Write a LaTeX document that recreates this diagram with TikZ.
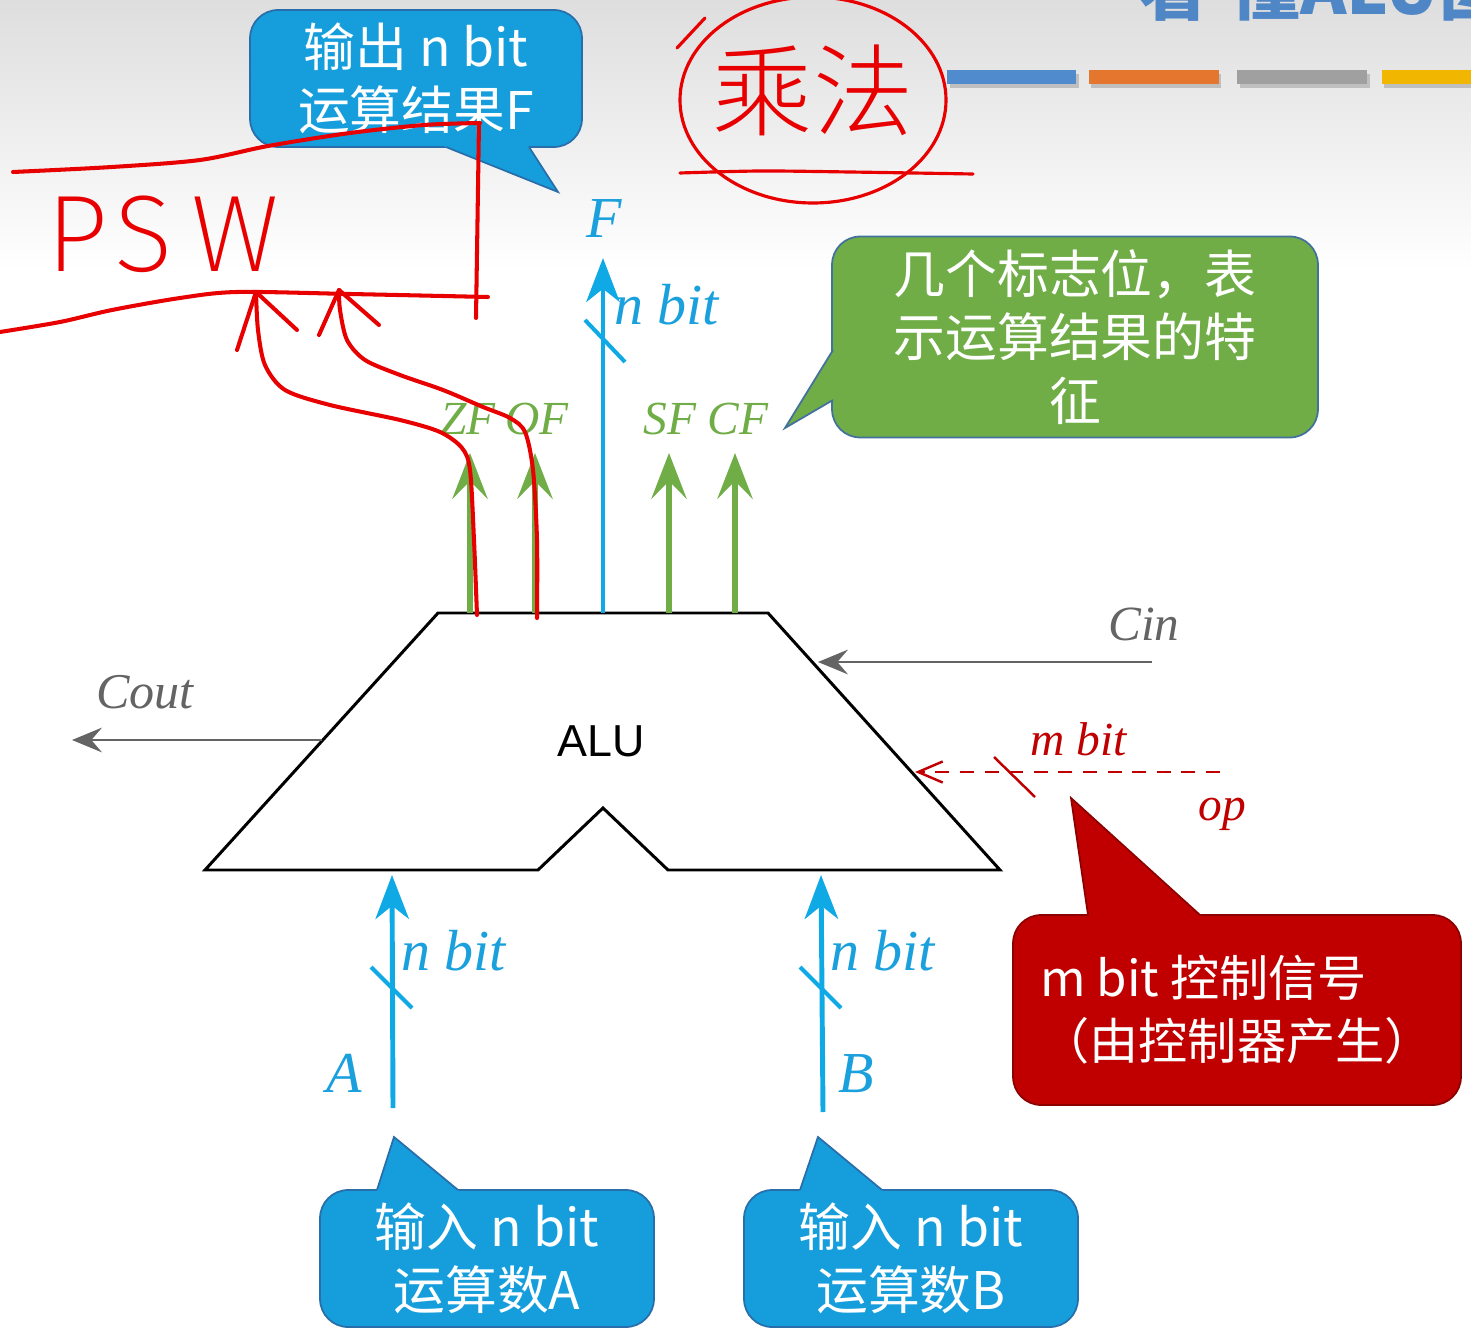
\documentclass[tikz,border=0pt]{standalone}
\usepackage{fontspec}
\setmainfont{Liberation Serif}
\newfontfamily\cjk{Noto Sans CJK SC}
\newfontfamily\sansf{Liberation Sans}
\IfFontExistsTF{FiraSans-ExtraLight.otf}{\newfontfamily\handf{FiraSans-ExtraLight.otf}}{%
  \IfFontExistsTF{Fira Sans ExtraLight}{\newfontfamily\handf{Fira Sans ExtraLight}}{\newfontfamily\handf{Liberation Sans}}}
\IfFontExistsTF{Noto Sans CJK SC Light}{\newfontfamily\cjkhand{Noto Sans CJK SC Light}}{\newfontfamily\cjkhand{Noto Sans CJK SC}}
\usetikzlibrary{arrows.meta,calc}
\definecolor{cyanB}{RGB}{15,170,230}
\definecolor{labB}{RGB}{26,160,220}
\definecolor{greenF}{RGB}{112,173,71}
\definecolor{grayL}{RGB}{100,100,100}
\definecolor{redL}{RGB}{192,0,0}
\definecolor{hand}{RGB}{232,0,0}
\definecolor{callBlue}{RGB}{22,158,220}
\definecolor{callBlueB}{RGB}{40,110,170}
\definecolor{callGreenB}{RGB}{65,113,156}
\definecolor{callRedB}{RGB}{140,0,0}
\definecolor{titleBlue}{RGB}{79,134,198}
\definecolor{barBlue}{RGB}{80,140,205}
\definecolor{barOrange}{RGB}{228,118,45}
\definecolor{barGray}{RGB}{160,160,160}
\definecolor{barYellow}{RGB}{240,182,0}
\begin{document}
\begin{tikzpicture}[x=0.02cm,y=-0.02cm,
  bluearrow/.style={draw=cyanB, line width=2.8pt, -{Stealth[length=25pt,width=19pt,inset=7.5pt]}},
  greenarrow/.style={draw=greenF, line width=3.4pt, -{Stealth[length=26pt,width=20pt,inset=10pt]}},
  grayarrow/.style={draw=grayL, line width=1.7pt, -{Stealth[length=17pt,width=14pt,inset=6pt]}},
  oparrow/.style={draw=redL, line width=1.4pt, dash pattern=on 8pt off 6pt, -{Straight Barb[length=14pt,width=12pt]}},
  slashmark/.style={line width=2.3pt},
  lab/.style={inner sep=0pt, anchor=base west, font=\itshape\fontsize{33}{36}\selectfont},
  flag/.style={inner sep=0pt, anchor=base west, text=greenF, font=\itshape\fontsize{27}{30}\selectfont},
  callbox/.style={rounded corners=16pt, line width=1pt, inner sep=0pt, align=center, text=white,
    font=\cjk\fontsize{29.5}{36}\selectfont},
  handline/.style={draw=hand, line width=2.3pt, line cap=round, line join=round}
  ]
\useasboundingbox (0,0) rectangle (1471,1341);
\fill[white] (0,0) rectangle (1471,1341);
\shade[top color=black!13, bottom color=white] (0,0) rectangle (1471,270);

% title and bars
\node[anchor=base west, inner sep=0pt, text=titleBlue, font=\cjk\bfseries\fontsize{40}{44}\selectfont] (title) at (1138,15) {看\hspace{12pt}懂ALU图};
\fill[black!25] (950,74) rectangle (1079,88);
\fill[black!25] (1091,74) rectangle (1221,88);
\fill[black!25] (1240,74) rectangle (1370,88);
\fill[black!25] (1384,74) rectangle (1471,88);
\fill[barBlue] (947,70) rectangle (1076,84);
\fill[barOrange] (1089,70) rectangle (1219,84);
\fill[barGray] (1237,70) rectangle (1367,84);
\fill[barYellow] (1382,70) rectangle (1471,84);

% ALU body
\coordinate (aluTL) at (438,613);
\coordinate (aluTR) at (768,613);
\coordinate (aluBR) at (1000,870);
\coordinate (aluNR) at (668,870);
\coordinate (aluNA) at (603,808);
\coordinate (aluNL) at (538,870);
\coordinate (aluBL) at (205,870);
\fill[black, opacity=0.12, shift={(3,6)}] (aluTL) -- (aluTR) -- (aluBR) -- (aluNR) -- (aluNA) -- (aluNL) -- (aluBL) -- cycle;
\draw[line width=1.7pt, fill=white, line join=miter] (aluTL) -- (aluTR) -- (aluBR) -- (aluNR) -- (aluNA) -- (aluNL) -- (aluBL) -- cycle;
\node[font=\sansf\fontsize{25.5}{28}\selectfont] (alu) at (601,741) {ALU};

% F output
\coordinate (fBase) at (603,613);
\coordinate (fTip) at (603,258);
\draw[bluearrow] (fBase) -- (fTip);
\coordinate (fs1) at (585,320); \coordinate (fs2) at (625,362);
\draw[cyanB, slashmark] (fs1) -- (fs2);
\node[lab, text=labB] (labF) at (586,238) {F};
\node[lab, text=labB] (labFn) at (614,325) {n bit};

% flags
\foreach \n/\x in {zf/470, of/535, sf/669, cf/735}{
  \coordinate (\n B) at (\x,613);
  \coordinate (\n T) at (\x,453);
  \draw[greenarrow] (\n B) -- (\n T);
}
\node[flag] (labZF) at (440,435) {ZF};
\node[flag] (labOF) at (505,435) {OF};
\node[flag] (labSF) at (643,435) {SF};
\node[flag] (labCF) at (707,435) {CF};

% inputs
\coordinate (aBase) at (393,1108); \coordinate (aTip) at (392,875);
\coordinate (bBase) at (823,1112); \coordinate (bTip) at (821,875);
\draw[bluearrow] (aBase) -- (aTip);
\draw[bluearrow] (bBase) -- (bTip);
\coordinate (as1) at (371,967); \coordinate (as2) at (412,1008);
\coordinate (bs1) at (800,967); \coordinate (bs2) at (841,1008);
\draw[cyanB, slashmark] (as1) -- (as2);
\draw[cyanB, slashmark] (bs1) -- (bs2);
\node[lab, text=labB] (labAn) at (401,970) {n bit};
\node[lab, text=labB] (labBn) at (830,970) {n bit};
\node[lab, text=labB] (labA) at (326,1092) {A};
\node[lab, text=labB] (labB) at (838,1092) {B};

% Cout / Cin
\coordinate (coutS) at (322,740); \coordinate (coutE) at (72,740);
\draw[grayarrow] (coutS) -- (coutE);
\node[lab, text=grayL, font=\itshape\fontsize{28.5}{30}\selectfont] (labCout) at (96,708) {Cout};
\coordinate (cinS) at (1152,662); \coordinate (cinE) at (818,662);
\draw[grayarrow] (cinS) -- (cinE);
\node[lab, text=grayL, font=\itshape\fontsize{28}{30}\selectfont] (labCin) at (1108,640) {Cin};

% op
\coordinate (opS) at (1220,772); \coordinate (opE) at (915,772);
\draw[oparrow] (opS) -- (opE);
\coordinate (os1) at (994,757); \coordinate (os2) at (1035,797);
\draw[redL, line width=1.4pt] (os1) -- (os2);
\node[lab, text=redL, font=\itshape\fontsize{27}{30}\selectfont] (labm) at (1030,755) {m bit};
\node[lab, text=redL, font=\itshape\fontsize{27}{30}\selectfont] (labop) at (1198,820) {op};

% callout: output F
\node[callbox, draw=callBlueB, fill=callBlue, minimum width=6.64cm, minimum height=2.74cm] (outF) at (416,78.5) {输出 n bit\\运算结果F};
\coordinate (oT) at (558,192); \coordinate (o1) at (446,147); \coordinate (o2) at (529,147);
\fill[callBlue] (oT) -- ($(oT)!1.15!(o1)$) -- ($(oT)!1.15!(o2)$) -- cycle;
\draw[callBlueB, line width=1pt, line join=miter] (o1) -- (oT) -- (o2);

% callout: flags
\node[callbox, draw=callGreenB, fill=greenF, minimum width=9.72cm, minimum height=4.02cm] (flagsC) at (1075,337) {几个标志位，表\\示运算结果的特\\征};
\coordinate (gT) at (785,428); \coordinate (g1) at (833,350); \coordinate (g2) at (833,400);
\fill[greenF] (gT) -- ($(gT)!1.15!(g1)$) -- ($(gT)!1.15!(g2)$) -- cycle;
\draw[callGreenB, line width=1pt, line join=miter] (g1) -- (gT) -- (g2);

% callout: control
\node[callbox, align=left, draw=callRedB, fill=redL, minimum width=8.96cm, minimum height=3.8cm, font=\cjk\fontsize{28}{36}\selectfont] (ctrl) at (1237,1010) {m bit 控制信号\\（由控制器产生）};
\coordinate (rT) at (1071,798); \coordinate (r1) at (1088,915); \coordinate (r2) at (1200,915);
\fill[redL] (rT) -- ($(rT)!1.12!(r1)$) -- ($(rT)!1.12!(r2)$) -- cycle;
\draw[callRedB, line width=1pt, line join=miter] (r1) -- (rT) -- (r2);

% callouts: inputs
\node[callbox, draw=callBlueB, fill=callBlue, minimum width=6.68cm, minimum height=2.74cm] (inA) at (487,1258.5) {输入 n bit\\运算数A};
\coordinate (iaT) at (394,1137); \coordinate (ia1) at (377,1190); \coordinate (ia2) at (458,1190);
\fill[callBlue] (iaT) -- ($(iaT)!1.2!(ia1)$) -- ($(iaT)!1.2!(ia2)$) -- cycle;
\draw[callBlueB, line width=1pt, line join=miter] (ia1) -- (iaT) -- (ia2);
\node[callbox, draw=callBlueB, fill=callBlue, minimum width=6.68cm, minimum height=2.74cm] (inB) at (911,1258.5) {输入 n bit\\运算数B};
\coordinate (ibT) at (818,1137); \coordinate (ib1) at (800,1190); \coordinate (ib2) at (882,1190);
\fill[callBlue] (ibT) -- ($(ibT)!1.2!(ib1)$) -- ($(ibT)!1.2!(ib2)$) -- cycle;
\draw[callBlueB, line width=1pt, line join=miter] (ib1) -- (ibT) -- (ib2);

% handwriting: multiplication
\node[text=hand, font=\cjkhand\fontsize{57}{60}\selectfont] (mul) at (813,90) {乘法};
\draw[handline, line width=1.8pt] (813,100) ellipse [x radius=133, y radius=103];
\draw[handline, line width=1.8pt] (677,48) -- (705,18);
\draw[handline, line width=1.8pt] plot[smooth] coordinates {(680,173) (760,171) (850,172) (973,174)};

% handwriting: PSW
\node[anchor=base west, inner sep=0pt, text=hand, font=\handf\fontsize{62}{70}\selectfont] (psw) at (46,272) {P\hspace{4pt}S\hspace{10pt}W};
\draw[handline] plot[smooth] coordinates {(13,172) (112,167) (200,160) (268,146) (350,133) (424,125) (480,123)};
\draw[handline] (479,123) -- (476,318);
\draw[handline] plot[smooth] coordinates {(0,332) (60,322) (112,310) (180,298) (237,292) (350,294) (488,297)};
\coordinate (p1) at (256,292);
\coordinate (p2) at (339,290);
\draw[handline] plot[smooth] coordinates {(477,615) (474,540) (470,470) (462,448) (440,432) (400,420) (330,405) (285,390) (265,365) (258,330) (p1)};
\draw[handline] plot[smooth] coordinates {(537,618) (537,540) (533,470) (525,432) (510,418) (483,407) (443,390) (400,375) (365,360) (347,340) (340,310) (p2)};
\draw[handline] (237,350) -- (p1) -- (297,330);
\draw[handline] (319,335) -- (p2) -- (379,325);
\end{tikzpicture}
\end{document}
